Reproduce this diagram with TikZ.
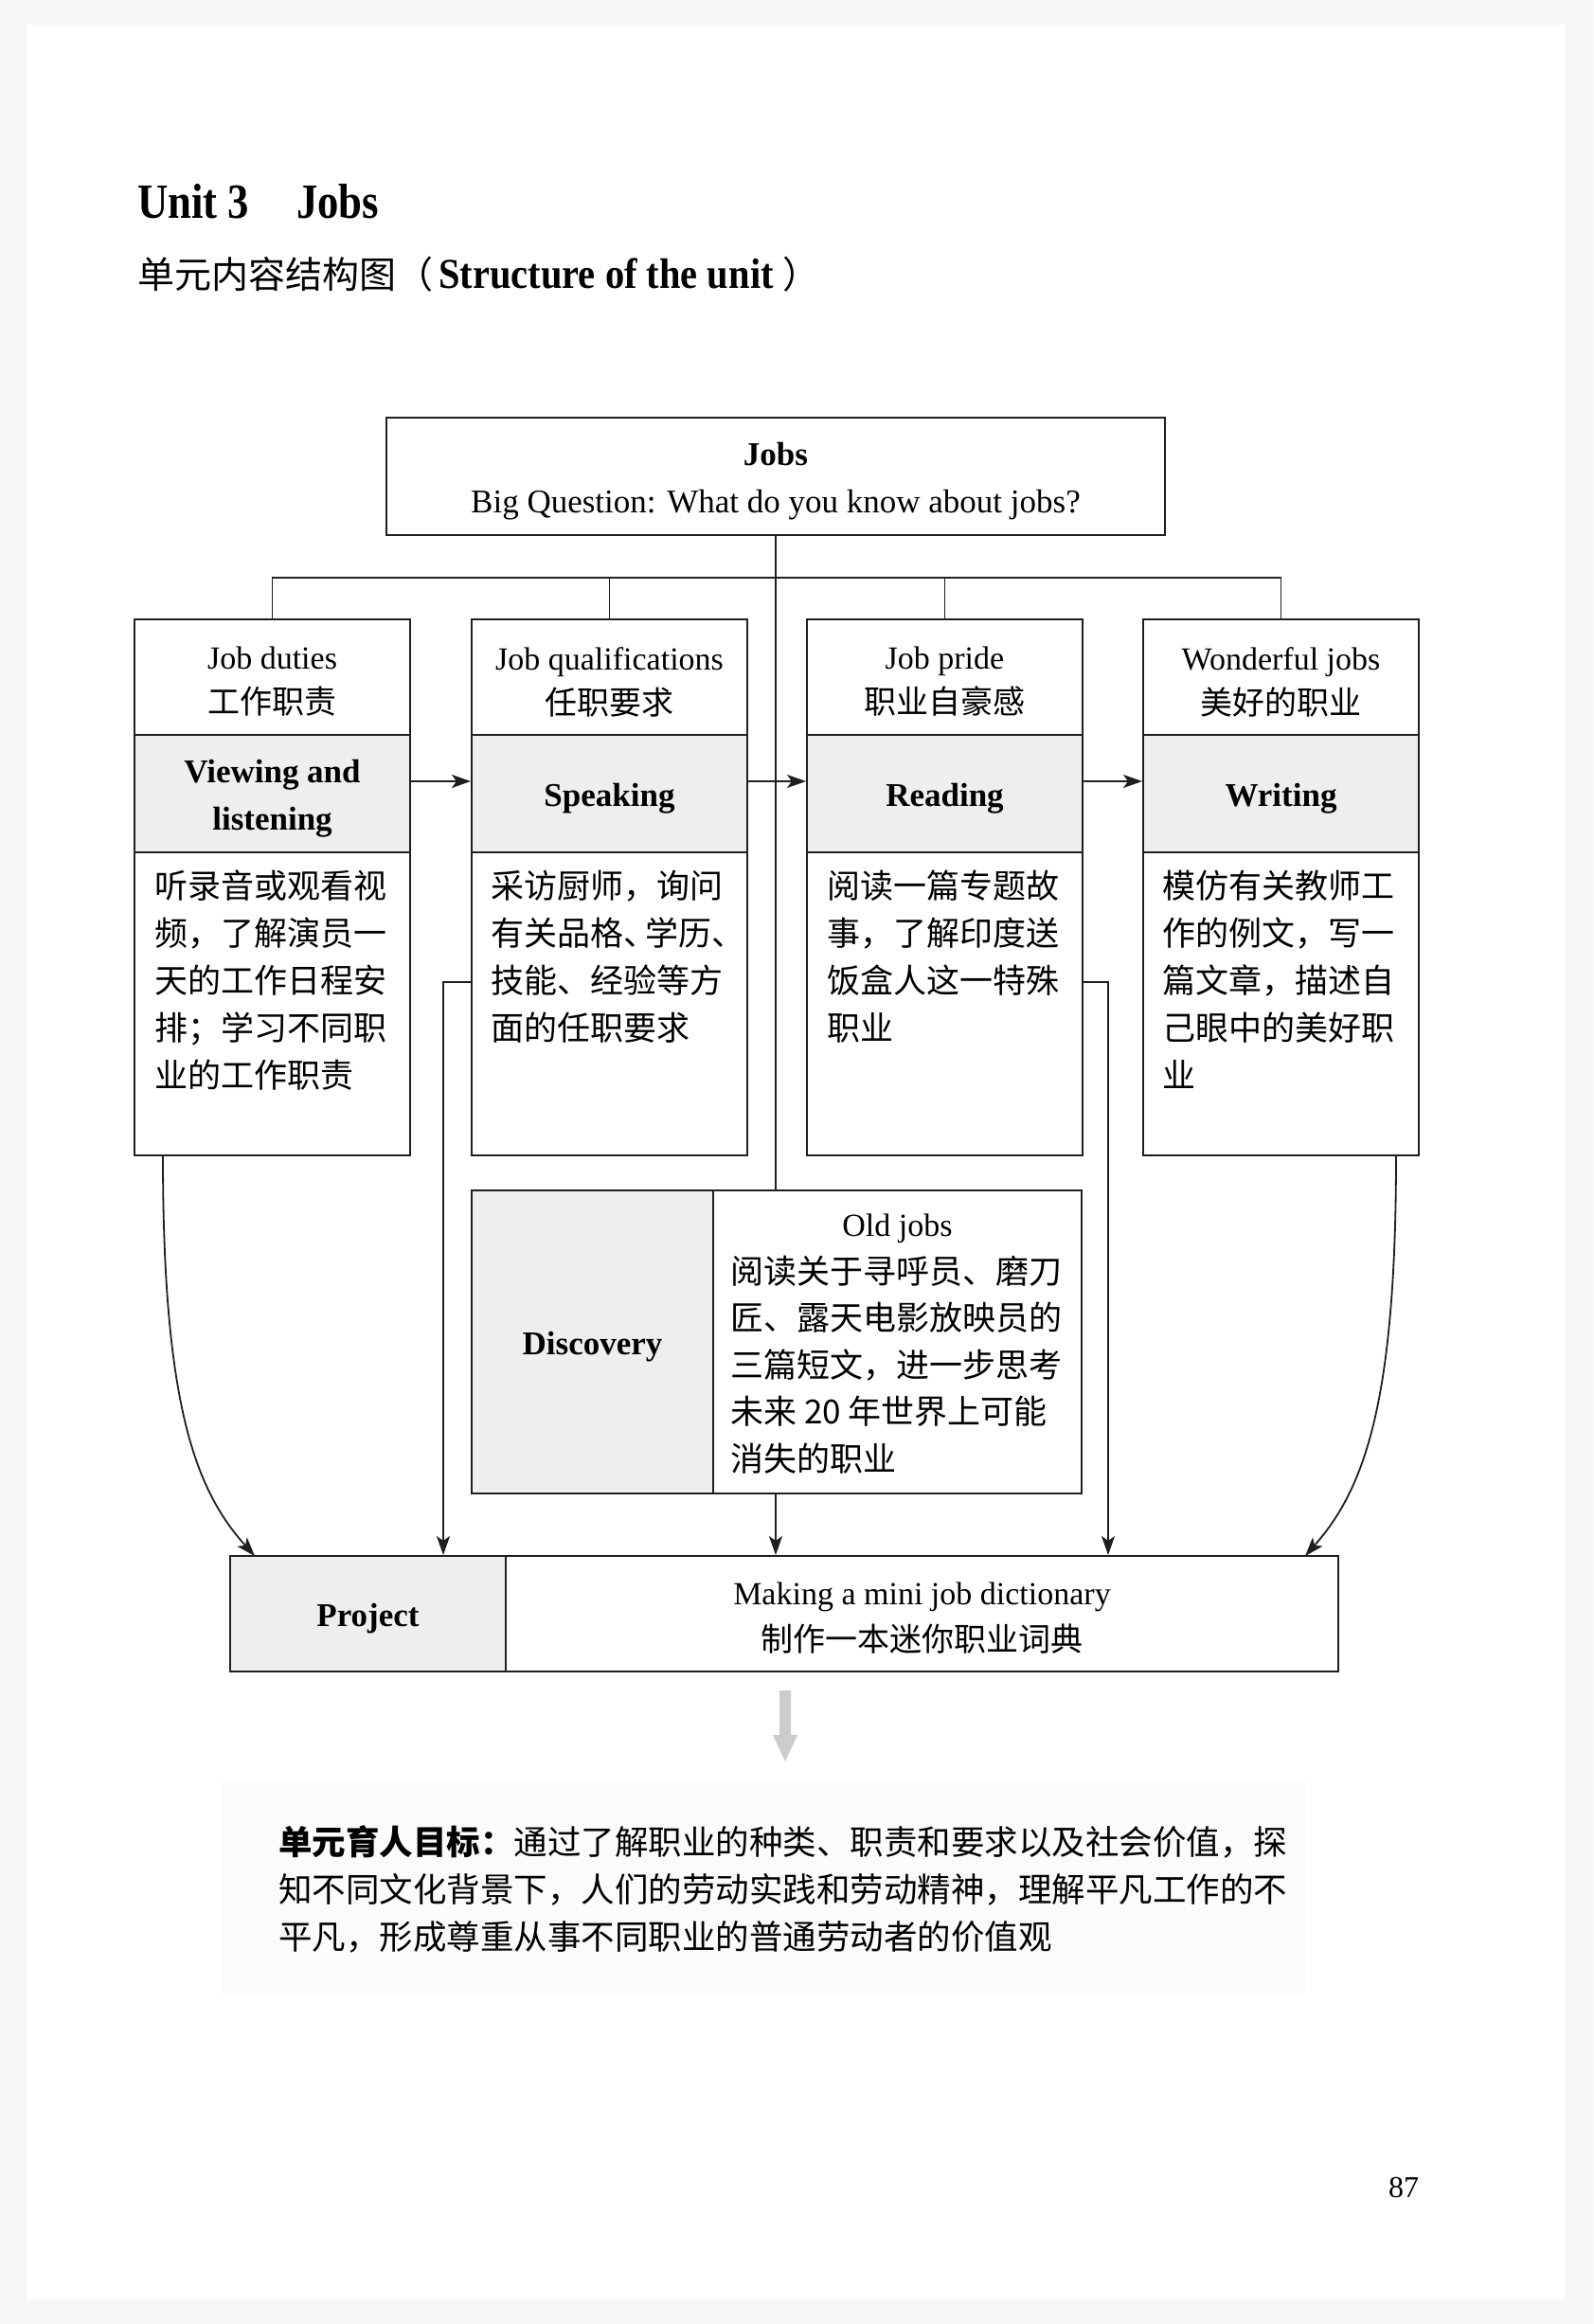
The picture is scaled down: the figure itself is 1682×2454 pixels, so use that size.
\documentclass[tikz,border=0pt]{standalone}
\usepackage{fontspec}
\setmainfont{Liberation Serif}
\newfontfamily\cjk{Noto Sans CJK SC}
\usetikzlibrary{arrows.meta}
\begin{document}
\begin{tikzpicture}[x={(1pt,0)},y={(0,-1pt)},
  box/.style={draw=black!88, line width=2pt, inner sep=0pt},
  colbox/.style={box, minimum width=291pt},
  shade/.style={fill=gray!13},
  ln/.style={line width=1.8pt, draw=black!88},
  arr/.style={ln, -{Stealth[length=20pt,width=14pt,inset=5pt]}},
  lbl/.style={inner sep=0pt, align=center, yshift=-5pt},
  entxt/.style={lbl, font=\fontsize{34}{47}\selectfont},
  bftxt/.style={lbl, font=\bfseries\fontsize{35}{50}\selectfont},
  cntxt/.style={anchor=north west, inner sep=0pt, align=left, font=\cjk\fontsize{35}{50}\selectfont}
]
\useasboundingbox (0,0) rectangle (1682,2454);
\fill[gray!6] (0,0) rectangle (1682,2454);
\fill[white] (28,26) rectangle (1652,2428);
\fill[gray!3] (235,1880) rectangle (1378,2105);

% headings
\node[anchor=west, inner sep=0pt] (title) at (145,213)
  {\scalebox{0.86}[1]{\bfseries\fontsize{52}{60}\selectfont Unit 3\hspace{58pt}Jobs}};
\node[anchor=west, inner sep=0pt] (subtitle) at (145,290)
  {{\cjk\fontsize{39}{45}\selectfont 单元内容结构图（}\hspace{6pt}\scalebox{0.9}[1]{\bfseries\fontsize{45}{50}\selectfont Structure of the unit}\hspace{10pt}{\cjk\fontsize{39}{45}\selectfont ）}};

% top box
\node[box, minimum width=822pt, minimum height=124pt] (top) at (819,503) {};
\node[lbl, font=\fontsize{35}{50}\selectfont] (topt) at (top.center)
  {{\bfseries Jobs}\\Big Question: What do you know about jobs?};

% column 1
\node[colbox, minimum height=122pt] (c1t) at (287.5,715) {};
\node[colbox, shade, minimum height=124pt] (c1m) at (287.5,838) {};
\node[colbox, minimum height=320pt] (c1b) at (287.5,1060) {};
\node[entxt] (c1tt) at (c1t.center) {Job duties\\{\cjk 工作职责}};
\node[bftxt] (c1mt) at (c1m.center) {Viewing and\\listening};
\node[cntxt] (c1x) at (163,918.5) {听录音或观看视\\频，了解演员一\\天的工作日程安\\排；学习不同职\\业的工作职责};

% column 2
\node[colbox, minimum height=122pt] (c2t) at (643.5,715) {};
\node[colbox, shade, minimum height=124pt] (c2m) at (643.5,838) {};
\node[colbox, minimum height=320pt] (c2b) at (643.5,1060) {};
\node[entxt] (c2tt) at (c2t.center) {Job qualifications\\{\cjk 任职要求}};
\node[bftxt] (c2mt) at (c2m.center) {Speaking};
\node[cntxt] (c2x) at (518,918.5) {采访厨师，询问\\有关品格、\kern-12pt 学历、\\技能、经验等方\\面的任职要求};

% column 3
\node[colbox, minimum height=122pt] (c3t) at (997.5,715) {};
\node[colbox, shade, minimum height=124pt] (c3m) at (997.5,838) {};
\node[colbox, minimum height=320pt] (c3b) at (997.5,1060) {};
\node[entxt] (c3tt) at (c3t.center) {Job pride\\{\cjk 职业自豪感}};
\node[bftxt] (c3mt) at (c3m.center) {Reading};
\node[cntxt] (c3x) at (873,918.5) {阅读一篇专题故\\事，了解印度送\\饭盒人这一特殊\\职业};

% column 4
\node[colbox, minimum height=122pt] (c4t) at (1352.5,715) {};
\node[colbox, shade, minimum height=124pt] (c4m) at (1352.5,838) {};
\node[colbox, minimum height=320pt] (c4b) at (1352.5,1060) {};
\node[entxt] (c4tt) at (c4t.center) {Wonderful jobs\\{\cjk 美好的职业}};
\node[bftxt] (c4mt) at (c4m.center) {Writing};
\node[cntxt] (c4x) at (1227,918.5) {模仿有关教师工\\作的例文，写一\\篇文章，描述自\\己眼中的美好职\\业};

% discovery
\node[box, shade, minimum width=255pt, minimum height=320pt] (dl) at (625.5,1417) {};
\node[box, minimum width=389pt, minimum height=320pt] (dr) at (947.5,1417) {};
\node[bftxt] (dlt) at (dl.center) {Discovery};
\node[entxt] (oj) at (947.5,1292) {Old jobs};
\node[cntxt, font=\cjk\fontsize{35}{49.5}\selectfont] (djx) at (771,1325.5)
  {阅读关于寻呼员、磨刀\\匠、露天电影放映员的\\三篇短文，进一步思考\\未来 20 年世界上可能\\消失的职业};

% project
\node[box, shade, minimum width=291pt, minimum height=122pt] (pl) at (388.5,1704) {};
\node[box, minimum width=879pt, minimum height=122pt] (pr) at (973.5,1704) {};
\node[bftxt] (plt) at (pl.center) {Project};
\node[lbl, font=\fontsize{34}{49}\selectfont] (prt) at (pr.center)
  {Making a mini job dictionary\\{\cjk 制作一本迷你职业词典}};

% tree connectors
\coordinate (hub) at (819,610);
\draw[ln] (c1t.north) |- (hub) -| (c4t.north);
\draw[ln] (c2t.north) -- (c2t.north |- hub);
\draw[ln] (c3t.north) -- (c3t.north |- hub);
\draw[ln] (top.south) -- (top.south |- dr.north);

% skill arrows
\draw[arr] ([yshift=13pt]c1m.east) -- ([yshift=13pt]c2m.west);
\draw[arr] ([yshift=13pt]c2m.east) -- ([yshift=13pt]c3m.west);
\draw[arr] ([yshift=13pt]c3m.east) -- ([yshift=13pt]c4m.west);

% arrows into project
\coordinate (L1) at (172,1220);
\coordinate (L2) at (269,1643);
\coordinate (R1) at (1474,1220);
\coordinate (R2) at (1378,1643);
\coordinate (k2) at (468,1037);
\coordinate (k3) at (1170,1037);
\draw[arr] (L1) .. controls (172,1480) and (205,1572) .. (L2);
\draw[arr] (R1) .. controls (1474,1480) and (1441,1572) .. (R2);
\draw[arr] (c2b.west |- k2) -- (k2) -- (k2 |- pr.north);
\draw[arr] (c3b.east |- k3) -- (k3) -- (k3 |- pr.north);
\draw[arr] (top.south |- dr.south) -- (top.south |- pr.north);

% grey block arrow
\fill[gray!40] (823,1785) -- (835,1785) -- (835,1832) -- (842,1832) -- (829,1860) -- (816,1832) -- (823,1832) -- cycle;

% goal text
\node[cntxt, font=\cjk\fontsize{35.5}{50}\selectfont] (goal) at (294,1927.5)
  {{\bfseries 单元育人目标：}通过了解职业的种类、职责和要求以及社会价值，探\\知不同文化背景下，人们的劳动实践和劳动精神，理解平凡工作的不\\平凡，形成尊重从事不同职业的普通劳动者的价值观};

% page number
\node[inner sep=0pt, font=\fontsize{32}{36}\selectfont] (pageno) at (1482,2310) {87};
\end{tikzpicture}
\end{document}
